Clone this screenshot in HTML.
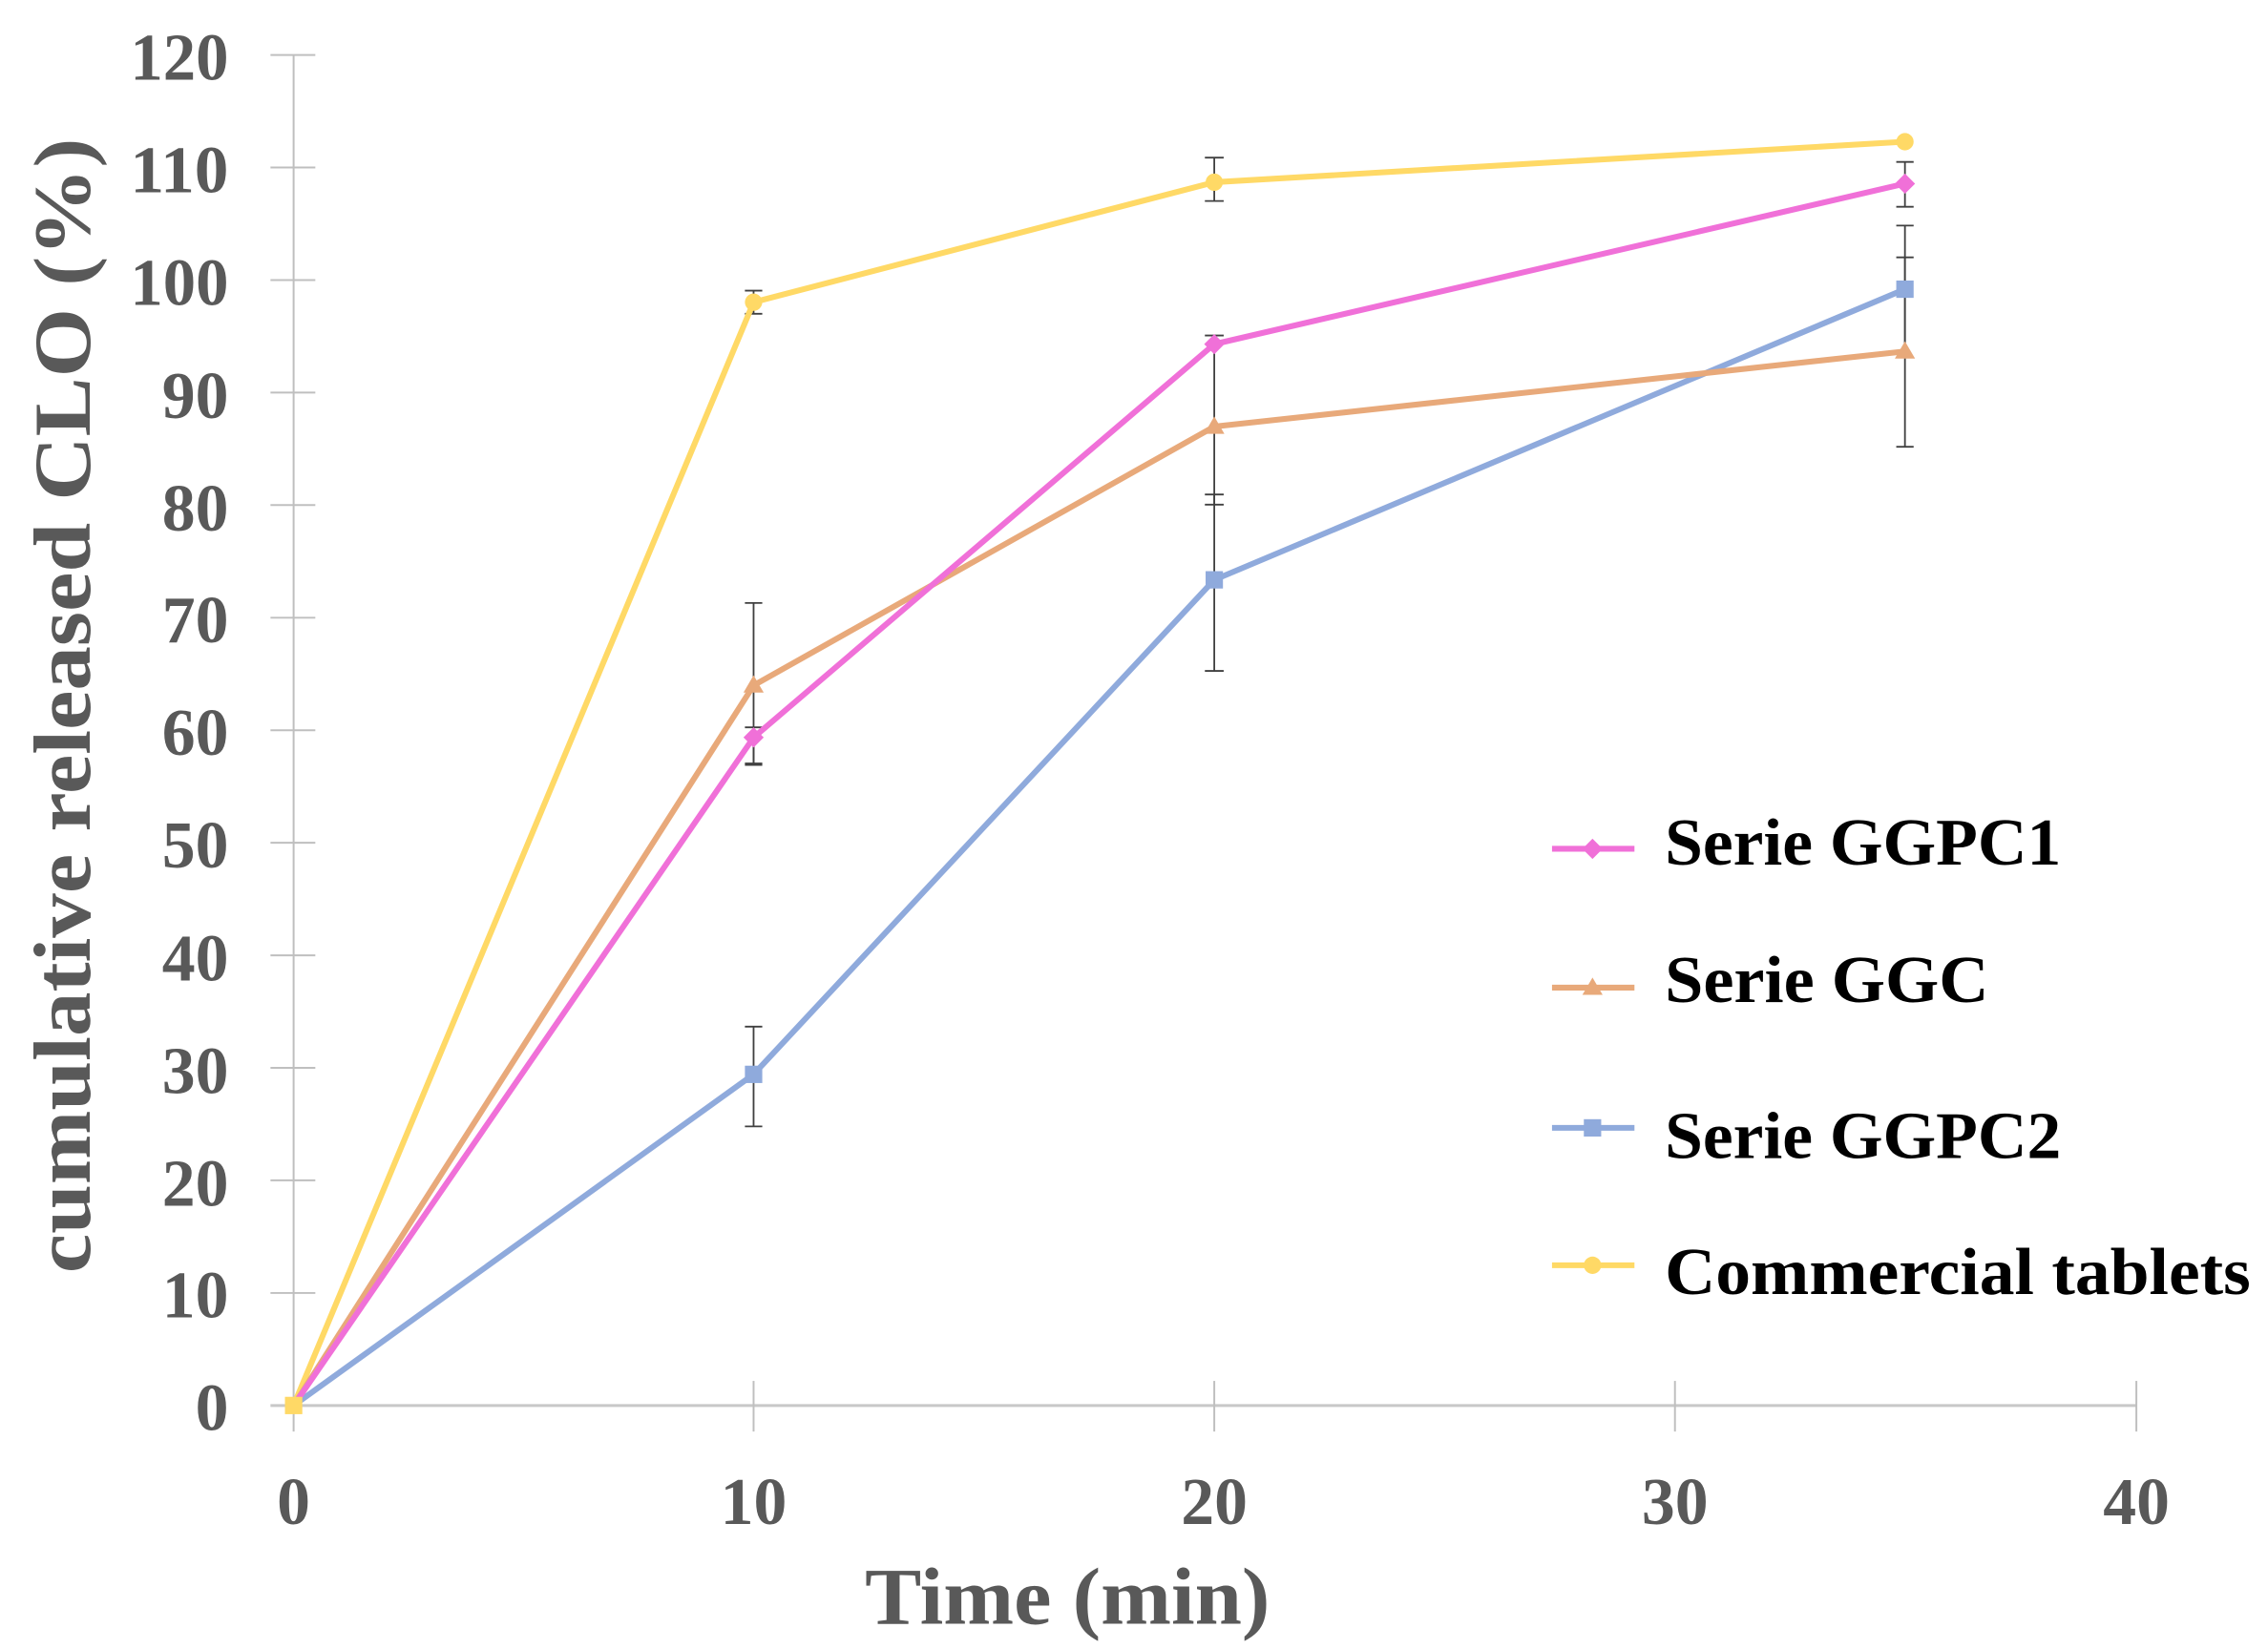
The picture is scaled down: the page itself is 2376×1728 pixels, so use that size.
<!DOCTYPE html>
<html><head><style>html,body{margin:0;padding:0;background:#fff}svg{display:block}</style></head>
<body>
<svg width="2376" height="1728" viewBox="0 0 1568 1140.4" preserveAspectRatio="none" xmlns="http://www.w3.org/2000/svg" font-family="'Liberation Serif', serif">
<rect width="1568" height="1140.4" fill="#fff"/>
<g stroke="#bfbfbf" stroke-width="1.3">
<line x1="203" y1="38" x2="203" y2="990"/>
<line x1="187" y1="972" x2="1477" y2="972" stroke="#c8c8c8" stroke-width="2"/>
<line x1="187" y1="38.0" x2="218" y2="38.0"/><line x1="187" y1="115.8" x2="218" y2="115.8"/><line x1="187" y1="193.7" x2="218" y2="193.7"/><line x1="187" y1="271.5" x2="218" y2="271.5"/><line x1="187" y1="349.3" x2="218" y2="349.3"/><line x1="187" y1="427.2" x2="218" y2="427.2"/><line x1="187" y1="505" x2="218" y2="505"/><line x1="187" y1="582.8" x2="218" y2="582.8"/><line x1="187" y1="660.7" x2="218" y2="660.7"/><line x1="187" y1="738.5" x2="218" y2="738.5"/><line x1="187" y1="816.3" x2="218" y2="816.3"/><line x1="187" y1="894.2" x2="218" y2="894.2"/>
<line x1="521" y1="955" x2="521" y2="990"/><line x1="839.5" y1="955" x2="839.5" y2="990"/><line x1="1158" y1="955" x2="1158" y2="990"/><line x1="1477" y1="955" x2="1477" y2="990"/>
</g>
<g fill="#595959" font-weight="bold" font-size="46" text-anchor="end">
<text x="158" y="55" textLength="68" lengthAdjust="spacingAndGlyphs">120</text><text x="158" y="133" textLength="68" lengthAdjust="spacingAndGlyphs">110</text><text x="158" y="211" textLength="68" lengthAdjust="spacingAndGlyphs">100</text><text x="158" y="289">90</text><text x="158" y="367">80</text><text x="158" y="444">70</text><text x="158" y="522">60</text><text x="158" y="600">50</text><text x="158" y="678">40</text><text x="158" y="756">30</text><text x="158" y="834">20</text><text x="158" y="911">10</text><text x="158" y="989">0</text>
</g>
<g fill="#595959" font-weight="bold" font-size="46" text-anchor="middle">
<text x="203" y="1054">0</text><text x="521" y="1054">10</text><text x="839.5" y="1054">20</text><text x="1158" y="1054">30</text><text x="1477" y="1054">40</text>
<text x="738" y="1123" font-size="56" textLength="280" lengthAdjust="spacingAndGlyphs">Time (min)</text>
<text transform="translate(62,488) rotate(-90)" font-size="56" textLength="785" lengthAdjust="spacingAndGlyphs">cumulative released CLO (%)</text>
</g>
<g stroke="#404040" stroke-width="1.2">
<line x1="521" y1="201" x2="521" y2="217"/><line x1="515" y1="201" x2="527" y2="201"/><line x1="515" y1="217" x2="527" y2="217"/>
<line x1="839.5" y1="109" x2="839.5" y2="139"/><line x1="833" y1="109" x2="846" y2="109"/><line x1="833" y1="139" x2="846" y2="139"/>
<line x1="521" y1="503" x2="521" y2="529"/><line x1="515" y1="503" x2="527" y2="503"/><line x1="515" y1="529" x2="527" y2="529"/>
<line x1="839.5" y1="232" x2="839.5" y2="240"/><line x1="833" y1="232" x2="846" y2="232"/>
<line x1="1317" y1="112" x2="1317" y2="143"/><line x1="1311" y1="112" x2="1323" y2="112"/><line x1="1311" y1="143" x2="1323" y2="143"/>
<line x1="521" y1="417" x2="521" y2="528"/><line x1="515" y1="417" x2="527" y2="417"/><line x1="515" y1="528" x2="527" y2="528"/>
<line x1="839.5" y1="237" x2="839.5" y2="349"/><line x1="833" y1="349" x2="846" y2="349"/>
<line x1="1317" y1="178" x2="1317" y2="309"/><line x1="1311" y1="178" x2="1323" y2="178"/><line x1="1311" y1="309" x2="1323" y2="309"/>
<line x1="521" y1="710" x2="521" y2="779"/><line x1="515" y1="710" x2="527" y2="710"/><line x1="515" y1="779" x2="527" y2="779"/>
<line x1="839.5" y1="342" x2="839.5" y2="464"/><line x1="833" y1="342" x2="846" y2="342"/><line x1="833" y1="464" x2="846" y2="464"/>
<line x1="1317" y1="156" x2="1317" y2="244"/><line x1="1311" y1="156" x2="1323" y2="156"/>
</g>
<g fill="none" stroke-width="4" stroke-linejoin="round">
<polyline stroke="#ffd966" points="203,972 521,209 839.5,126 1317,98"/>
<polyline stroke="#8faadc" points="203,972 521,743 839.5,401 1317,200"/>
<polyline stroke="#e8a97a" points="203,972 521,474 839.5,295 1317,243"/>
<polyline stroke="#f070d8" points="203,972 521,510 839.5,238 1317,127"/>
</g>
<g>
<circle cx="521" cy="209" r="6" fill="#ffd966"/><circle cx="839.5" cy="126" r="6" fill="#ffd966"/><circle cx="1317" cy="98" r="6" fill="#ffd966"/>
<rect x="515" y="737" width="12" height="12" fill="#8faadc"/><rect x="833.5" y="395" width="12" height="12" fill="#8faadc"/><rect x="1311" y="194" width="12" height="12" fill="#8faadc"/>
<polygon points="521,467 528,479 514,479" fill="#e8a97a"/><polygon points="839.5,288 846.5,300 832.5,300" fill="#e8a97a"/><polygon points="1317,236 1324,248 1310,248" fill="#e8a97a"/>
<polygon points="521,503 528,510 521,517 514,510" fill="#f070d8"/><polygon points="839.5,231 846.5,238 839.5,245 832.5,238" fill="#f070d8"/><polygon points="1317,120 1324,127 1317,134 1310,127" fill="#f070d8"/>
<rect x="197" y="966" width="12" height="12" fill="#ffd966"/>
</g>
<g stroke-width="4">
<line x1="1073" y1="587" x2="1130" y2="587" stroke="#f070d8"/><polygon points="1101,580 1108,587 1101,594 1094,587" fill="#f070d8"/>
<line x1="1073" y1="683" x2="1130" y2="683" stroke="#e8a97a"/><polygon points="1101,676 1108,688 1094,688" fill="#e8a97a"/>
<line x1="1073" y1="780" x2="1130" y2="780" stroke="#8faadc"/><rect x="1095" y="774" width="12" height="12" fill="#8faadc"/>
<line x1="1073" y1="875" x2="1130" y2="875" stroke="#ffd966"/><circle cx="1101" cy="875" r="6" fill="#ffd966"/>
</g>
<g fill="#000" font-weight="bold" font-size="46">
<text x="1151" y="598" textLength="274" lengthAdjust="spacingAndGlyphs">Serie GGPC1</text>
<text x="1151" y="693" textLength="224" lengthAdjust="spacingAndGlyphs">Serie GGC</text>
<text x="1151" y="801" textLength="274" lengthAdjust="spacingAndGlyphs">Serie GGPC2</text>
<text x="1151" y="895" textLength="405" lengthAdjust="spacingAndGlyphs">Commercial tablets</text>
</g>
</svg>
</body></html>
